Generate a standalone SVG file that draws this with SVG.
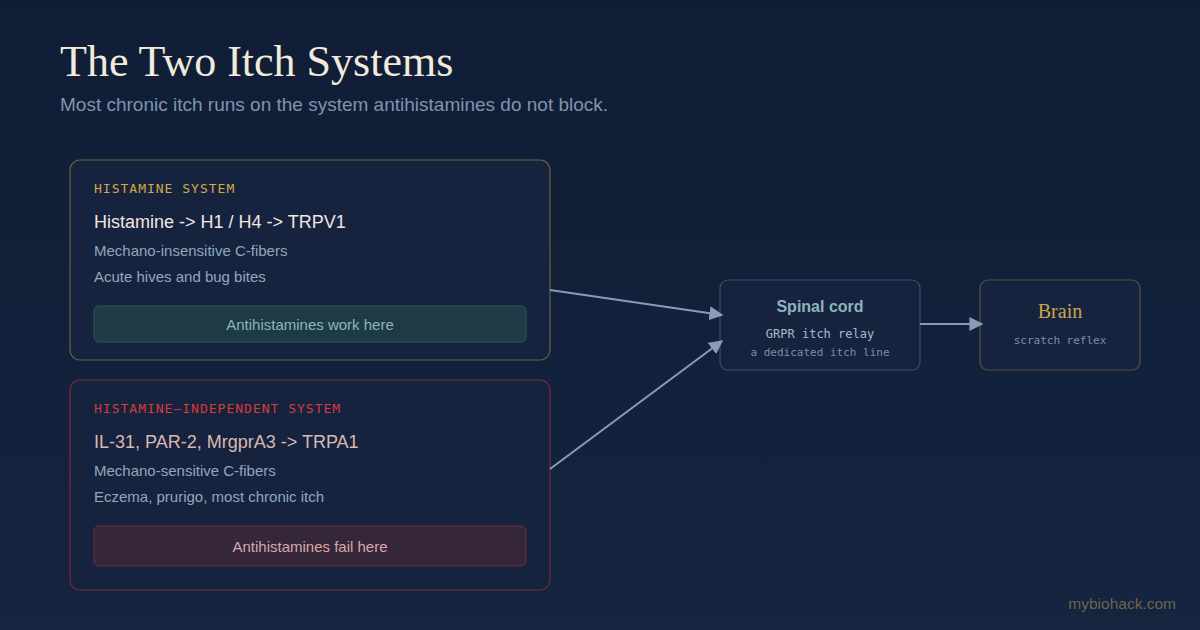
<svg xmlns="http://www.w3.org/2000/svg" width="1200" height="630" viewBox="0 0 1200 630">
<defs>
<linearGradient id="bg" x1="0" y1="0" x2="0" y2="1">
<stop offset="0" stop-color="#0f1e36"/>
<stop offset="1" stop-color="#15243f"/>
</linearGradient>
<marker id="arr" viewBox="0 0 10 10" refX="9" refY="5" markerWidth="7" markerHeight="7" markerUnits="strokeWidth" orient="auto">
<path d="M0,0 L10,5 L0,10 z" fill="#8a9bb5"/>
</marker>
<style>
.sans{font-family:"Liberation Sans",Arial,sans-serif}
.mono{font-family:"DejaVu Sans Mono","Liberation Mono",monospace}
.serif{font-family:"Liberation Serif","Times New Roman",serif}
.card{fill:#16233f;stroke-width:1.2}
.tag{font-size:13px;letter-spacing:1px}
.main{font-size:18px}
.sub{font-size:15px;fill:#8fa8bb}
.conn{stroke:#8a9bb5;stroke-width:2;fill:none;marker-end:url(#arr)}
</style>
</defs>
<rect width="1200" height="630" fill="url(#bg)"/>
<text class="serif" x="60" y="76" font-size="44" fill="#f3e9dc">The Two Itch Systems</text>
<text class="sans" x="60" y="111" font-size="19" fill="#8193ad">Most chronic itch runs on the system antihistamines do not block.</text>

<g id="histamine">
<rect class="card" x="70" y="160" width="480" height="200" rx="10" stroke="#6b6142"/>
<text class="mono tag" x="94" y="193" fill="#d4a845">HISTAMINE SYSTEM</text>
<text class="sans main" x="94" y="228" fill="#f3e6e0">Histamine -&gt; H1 / H4 -&gt; TRPV1</text>
<text class="sans sub" x="94" y="256">Mechano-insensitive C-fibers</text>
<text class="sans sub" x="94" y="282">Acute hives and bug bites</text>
<rect x="94" y="306" width="432" height="36" rx="5" fill="#1e3a45" stroke="#2d5a5a"/>
<text class="sans" x="310" y="330" font-size="15" fill="#8fb3bd" text-anchor="middle">Antihistamines work here</text>
</g>

<g id="independent">
<rect class="card" x="70" y="380" width="480" height="210" rx="10" stroke="#7a2a38"/>
<text class="mono tag" x="94" y="413" fill="#d83a3a">HISTAMINE–INDEPENDENT SYSTEM</text>
<text class="sans main" x="94" y="448" fill="#d9b8b0">IL-31, PAR-2, MrgprA3 -&gt; TRPA1</text>
<text class="sans sub" x="94" y="476">Mechano-sensitive C-fibers</text>
<text class="sans sub" x="94" y="502">Eczema, prurigo, most chronic itch</text>
<rect x="94" y="526" width="432" height="40" rx="5" fill="#35263a" stroke="#6a3040"/>
<text class="sans" x="310" y="552" font-size="15" fill="#d9a8a8" text-anchor="middle">Antihistamines fail here</text>
</g>

<g id="spinal">
<rect class="card" x="720" y="280" width="200" height="90" rx="8" stroke="#2e5560"/>
<text class="sans" x="820" y="312" font-size="16" font-weight="bold" fill="#8fb3bd" text-anchor="middle">Spinal cord</text>
<text class="mono" x="820" y="338" font-size="12" fill="#a9b8c8" text-anchor="middle">GRPR itch relay</text>
<text class="mono" x="820" y="356" font-size="11" fill="#7d8ea3" text-anchor="middle">a dedicated itch line</text>
</g>

<g id="brain">
<rect class="card" x="980" y="280" width="160" height="90" rx="8" stroke="#5a5040"/>
<text class="serif" x="1060" y="318" font-size="20" fill="#c9a44a" text-anchor="middle">Brain</text>
<text class="mono" x="1060" y="344" font-size="11" fill="#7d8ea3" text-anchor="middle">scratch reflex</text>
</g>

<g id="connectors">
<line class="conn" x1="550" y1="290" x2="722" y2="315"/>
<line class="conn" x1="550" y1="469" x2="722" y2="341"/>
<line class="conn" x1="920" y1="324" x2="982" y2="324"/>
</g>

<text class="sans" x="1176" y="609" font-size="15.5" fill="#6b6450" text-anchor="end">mybiohack.com</text>
</svg>
